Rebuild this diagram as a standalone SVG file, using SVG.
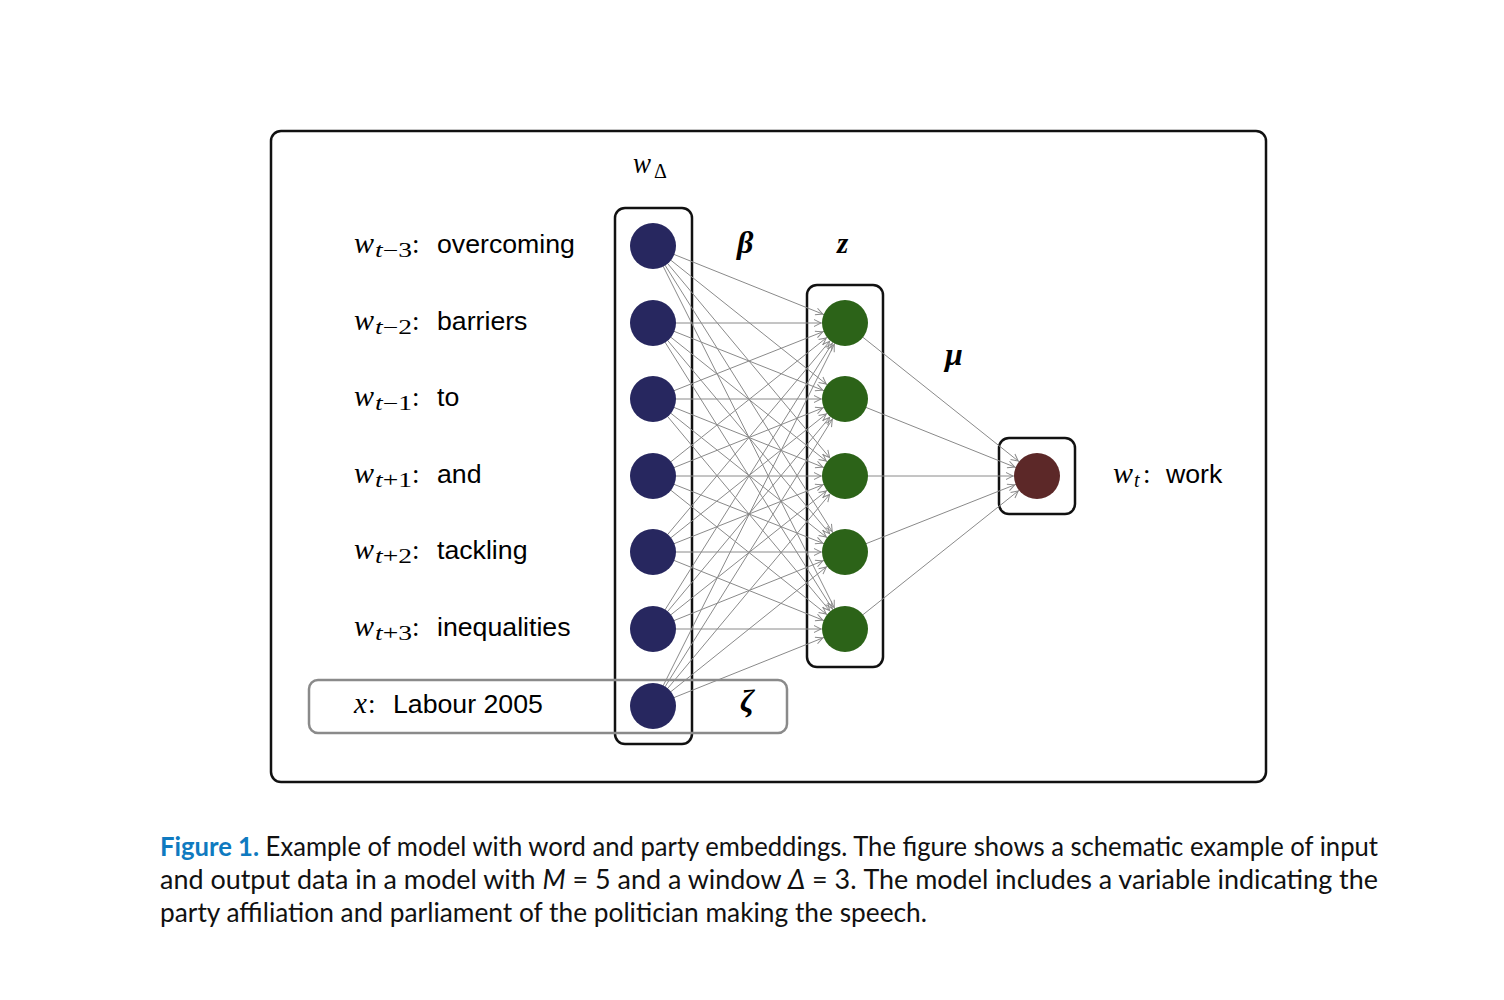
<svg xmlns="http://www.w3.org/2000/svg" width="1504" height="1000" viewBox="0 0 1504 1000">
<style>
.box{fill:none;stroke:#111;stroke-width:2.5}
.gbox{fill:none;stroke:#8a8a8a;stroke-width:2.5}
.c{stroke:#8a8a8a;stroke-width:1;fill:none;marker-end:url(#ah)}
.b{fill:#27275f}
.g{fill:#2c6318}
.r{fill:#5c2828}
.m{font-family:"Liberation Serif",serif;font-style:italic;font-size:29px;fill:#000}
.sub{font-family:"Liberation Serif",serif;font-size:20px;fill:#000}
.it{font-style:italic}
.col{font-family:"Liberation Serif",serif;font-size:27px;fill:#000}
.w{font-family:"Liberation Sans",Arial,sans-serif;font-size:26.7px;fill:#000}
.gr{font-family:"Liberation Serif",serif;font-style:italic;font-weight:bold;font-size:32px;fill:#000}
.cap{font-family:Lato,"Open Sans",sans-serif;font-size:27px;fill:#111}
.fig{fill:#0f7ac0;font-weight:bold}
</style>
<defs>
<marker id="ah" markerUnits="userSpaceOnUse" markerWidth="40" markerHeight="10" viewBox="-34 -5 40 10" refX="0" refY="0" orient="auto" overflow="visible">
<path d="M-31,-3.5 L-24,0 L-31,3.5" fill="none" stroke="#8a8a8a" stroke-width="1"/>
</marker>
</defs>
<rect width="1504" height="1000" fill="#fff"/>
<rect id="frame" x="271" y="131" width="995" height="651" rx="10" class="box"/>
<g id="boxes">
<rect id="input-box" x="615" y="208" width="77" height="536" rx="10" class="box"/>
<rect id="z-box" x="807" y="285" width="76" height="382" rx="10" class="box"/>
<rect id="out-box" x="999" y="438" width="76" height="76" rx="10" class="box"/>
<rect id="x-box" x="309" y="680" width="478" height="53" rx="9" class="gbox"/>
</g>
<g id="connectors">
<line class="c" x1="653" y1="246" x2="845" y2="323"/><line class="c" x1="653" y1="246" x2="845" y2="399"/><line class="c" x1="653" y1="246" x2="845" y2="476"/><line class="c" x1="653" y1="246" x2="845" y2="552"/><line class="c" x1="653" y1="246" x2="845" y2="629"/>
<line class="c" x1="653" y1="323" x2="845" y2="323"/><line class="c" x1="653" y1="323" x2="845" y2="399"/><line class="c" x1="653" y1="323" x2="845" y2="476"/><line class="c" x1="653" y1="323" x2="845" y2="552"/><line class="c" x1="653" y1="323" x2="845" y2="629"/>
<line class="c" x1="653" y1="399" x2="845" y2="323"/><line class="c" x1="653" y1="399" x2="845" y2="399"/><line class="c" x1="653" y1="399" x2="845" y2="476"/><line class="c" x1="653" y1="399" x2="845" y2="552"/><line class="c" x1="653" y1="399" x2="845" y2="629"/>
<line class="c" x1="653" y1="476" x2="845" y2="323"/><line class="c" x1="653" y1="476" x2="845" y2="399"/><line class="c" x1="653" y1="476" x2="845" y2="476"/><line class="c" x1="653" y1="476" x2="845" y2="552"/><line class="c" x1="653" y1="476" x2="845" y2="629"/>
<line class="c" x1="653" y1="552" x2="845" y2="323"/><line class="c" x1="653" y1="552" x2="845" y2="399"/><line class="c" x1="653" y1="552" x2="845" y2="476"/><line class="c" x1="653" y1="552" x2="845" y2="552"/><line class="c" x1="653" y1="552" x2="845" y2="629"/>
<line class="c" x1="653" y1="629" x2="845" y2="323"/><line class="c" x1="653" y1="629" x2="845" y2="399"/><line class="c" x1="653" y1="629" x2="845" y2="476"/><line class="c" x1="653" y1="629" x2="845" y2="552"/><line class="c" x1="653" y1="629" x2="845" y2="629"/>
<line class="c" x1="653" y1="706" x2="845" y2="323"/><line class="c" x1="653" y1="706" x2="845" y2="399"/><line class="c" x1="653" y1="706" x2="845" y2="476"/><line class="c" x1="653" y1="706" x2="845" y2="552"/><line class="c" x1="653" y1="706" x2="845" y2="629"/>
<line class="c" x1="845" y1="323" x2="1037" y2="476"/><line class="c" x1="845" y1="399" x2="1037" y2="476"/><line class="c" x1="845" y1="476" x2="1037" y2="476"/><line class="c" x1="845" y1="552" x2="1037" y2="476"/><line class="c" x1="845" y1="629" x2="1037" y2="476"/>
</g>
<g id="input-nodes">
<circle id="n-wt-3" class="b" cx="653" cy="246" r="23"/>
<circle id="n-wt-2" class="b" cx="653" cy="323" r="23"/>
<circle id="n-wt-1" class="b" cx="653" cy="399" r="23"/>
<circle id="n-wt+1" class="b" cx="653" cy="476" r="23"/>
<circle id="n-wt+2" class="b" cx="653" cy="552" r="23"/>
<circle id="n-wt+3" class="b" cx="653" cy="629" r="23"/>
<circle id="n-x" class="b" cx="653" cy="706" r="23"/>
</g>
<g id="z-nodes">
<circle id="z1" class="g" cx="845" cy="323" r="23"/>
<circle id="z2" class="g" cx="845" cy="399" r="23"/>
<circle id="z3" class="g" cx="845" cy="476" r="23"/>
<circle id="z4" class="g" cx="845" cy="552" r="23"/>
<circle id="z5" class="g" cx="845" cy="629" r="23"/>
</g>
<g id="output-node">
<circle id="n-wt" class="r" cx="1037" cy="476" r="23"/>
</g>
<g id="labels">
<text class="m" x="354" y="253" textLength="20" lengthAdjust="spacingAndGlyphs">w</text><text class="sub" x="375" y="257" textLength="37" lengthAdjust="spacingAndGlyphs"><tspan class="it">t</tspan>−3</text><text class="col" x="412" y="253">:</text><text class="w" x="437" y="253">overcoming</text>
<text class="m" x="354" y="330" textLength="20" lengthAdjust="spacingAndGlyphs">w</text><text class="sub" x="375" y="334" textLength="37" lengthAdjust="spacingAndGlyphs"><tspan class="it">t</tspan>−2</text><text class="col" x="412" y="330">:</text><text class="w" x="437" y="330">barriers</text>
<text class="m" x="354" y="406" textLength="20" lengthAdjust="spacingAndGlyphs">w</text><text class="sub" x="375" y="410" textLength="37" lengthAdjust="spacingAndGlyphs"><tspan class="it">t</tspan>−1</text><text class="col" x="412" y="406">:</text><text class="w" x="437" y="406">to</text>
<text class="m" x="354" y="483" textLength="20" lengthAdjust="spacingAndGlyphs">w</text><text class="sub" x="375" y="487" textLength="37" lengthAdjust="spacingAndGlyphs"><tspan class="it">t</tspan>+1</text><text class="col" x="412" y="483">:</text><text class="w" x="437" y="483">and</text>
<text class="m" x="354" y="559" textLength="20" lengthAdjust="spacingAndGlyphs">w</text><text class="sub" x="375" y="563" textLength="37" lengthAdjust="spacingAndGlyphs"><tspan class="it">t</tspan>+2</text><text class="col" x="412" y="559">:</text><text class="w" x="437" y="559">tackling</text>
<text class="m" x="354" y="636" textLength="20" lengthAdjust="spacingAndGlyphs">w</text><text class="sub" x="375" y="640" textLength="37" lengthAdjust="spacingAndGlyphs"><tspan class="it">t</tspan>+3</text><text class="col" x="412" y="636">:</text><text class="w" x="437" y="636">inequalities</text>
<text class="m" x="354" y="713">x</text><text class="col" x="368" y="713">:</text><text class="w" x="393" y="713">Labour 2005</text>
<text class="m" x="1113" y="483" textLength="20" lengthAdjust="spacingAndGlyphs">w</text><text class="sub it" x="1134" y="487">t</text><text class="col" x="1143" y="483">:</text><text class="w" x="1166" y="483">work</text>
<text class="m" x="633" y="173" textLength="18" lengthAdjust="spacingAndGlyphs">w</text><text class="sub" x="654" y="178">Δ</text>
<text class="gr" x="737" y="253">β</text>
<text class="gr" x="837" y="253" style="font-size:29px">z</text>
<text class="gr" x="945" y="365">μ</text>
<text class="gr" x="740" y="712">ζ</text>
</g>
<g id="caption">
<text class="cap" x="160" y="856" textLength="1218" lengthAdjust="spacingAndGlyphs"><tspan class="fig">Figure 1.</tspan> Example of model with word and party embeddings. The figure shows a schematic example of input</text>
<text class="cap" x="160" y="889" textLength="1218" lengthAdjust="spacingAndGlyphs">and output data in a model with <tspan class="it">M</tspan> = 5 and a window <tspan class="it">Δ</tspan> = 3. The model includes a variable indicating the</text>
<text class="cap" x="160" y="922" textLength="767" lengthAdjust="spacingAndGlyphs">party affiliation and parliament of the politician making the speech.</text>
</g>
</svg>
